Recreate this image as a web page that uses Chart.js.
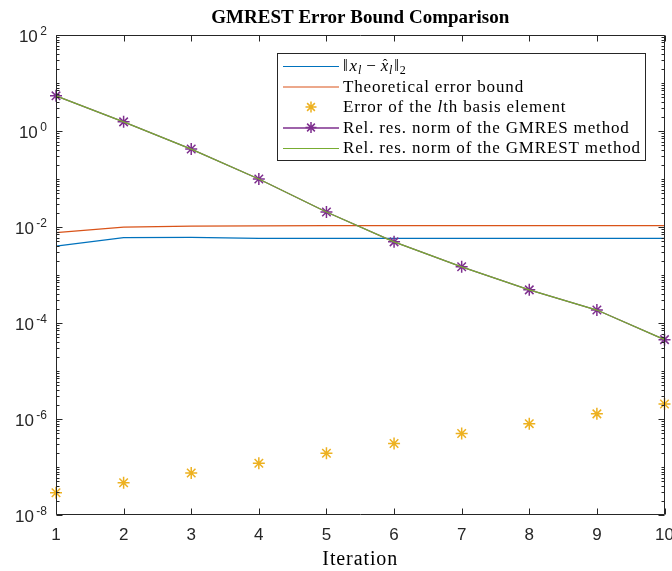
<!DOCTYPE html>
<html><head><meta charset="utf-8">
<script src="https://cdn.jsdelivr.net/npm/chart.js@4.4.0/dist/chart.umd.min.js"></script>
<style>html,body{margin:0;padding:0;background:#fff}#wrap{width:672px;height:571px;position:relative}</style>
</head><body><div id="wrap"><canvas id="c" width="672" height="571"></canvas></div>
<script>
// ---- data ----
const iterations = [1, 2, 3, 4, 5, 6, 7, 8, 9, 10];
const errNorm  = [0.0040, 0.0060, 0.0061, 0.0058, 0.0058, 0.0058, 0.0058, 0.0058, 0.0058, 0.0058];
const errBound = [0.0076, 0.0099, 0.0104, 0.0106, 0.0107, 0.0107, 0.0107, 0.0107, 0.0107, 0.0107];
const basisErr = [2.9e-8, 4.7e-8, 7.5e-8, 1.2e-7, 1.94e-7, 3.1e-7, 5.0e-7, 8.0e-7, 1.28e-6, 2.05e-6];
const gmresRes  = [5.4, 1.55, 0.42, 0.10, 0.0205, 0.0049, 0.00148, 0.00049, 0.000186, 0.000045];
const gmrestRes = [5.4, 1.55, 0.42, 0.10, 0.0205, 0.0049, 0.00148, 0.00049, 0.000186, 0.000045];
const yTickExponents = [-8, -6, -4, -2, 0, 2];
const xTickLabels = ['1','2','3','4','5','6','7','8','9','10'];
const titleText = 'GMREST Error Bound Comparison';
const xLabelText = 'Iteration';
const legendTexts = ['||x_l - x̂_l||_2', 'Theoretical error bound', 'Error of the lth basis element',
  'Rel. res. norm of the GMRES method', 'Rel. res. norm of the GMREST method'];

const COL = {blue:'#0072BD', orange:'#D95319', yellow:'#EDB120', purple:'#7E2F8E', green:'#77AC30'};
const AX = '#262626';
const SERIF = '"Liberation Serif", "DejaVu Serif", serif';
const SANS = '"Liberation Sans", Arial, sans-serif';

const pts = arr => iterations.map((x, i) => ({x: x, y: arr[i]}));

function setLS(ctx, v) { if ('letterSpacing' in ctx) ctx.letterSpacing = v + 'px'; }

function drawLegend(ctx) {
  const L = 277, T = 53, R = 646, B = 161;
  ctx.save();
  ctx.fillStyle = '#fff';
  ctx.fillRect(L, T, R - L, B - T);
  ctx.strokeStyle = AX; ctx.lineWidth = 1;
  ctx.strokeRect(L + 0.5, T + 0.5, R - L - 1, B - T - 1);
  const x0 = 283, x1 = 339, tx = 343;
  const rows = [66, 86.5, 107, 127.5, 148];
  const cols = [COL.blue, COL.orange, null, COL.purple, COL.green];
  rows.forEach((y, i) => {
    if (cols[i]) {
      ctx.strokeStyle = cols[i]; ctx.lineWidth = i === 3 ? 2 : 1.2;
      ctx.globalAlpha = i === 3 ? 0.75 : 1;
      ctx.beginPath(); ctx.moveTo(x0, y + 0.5); ctx.lineTo(x1, y + 0.5); ctx.stroke();
      ctx.globalAlpha = 1;
    }
    if (i === 2) starMarker(ctx, (x0 + x1) / 2, y, 5.5, COL.yellow);
    if (i === 3) starMarker(ctx, (x0 + x1) / 2, y, 5.5, COL.purple);
  });
  ctx.fillStyle = '#000';
  ctx.textBaseline = 'middle'; ctx.textAlign = 'left';
  const fs = 17;
  setLS(ctx, 0.85);
  // row 0: math
  let x = tx, y = rows[0] + 1;
  const seg = (t, font, dy, gap) => { ctx.font = font; ctx.fillText(t, x, y + (dy || 0)); x += ctx.measureText(t).width + (gap || 0); };
  seg('\u2016', fs + 'px ' + SERIF, 0, 1);
  seg('x', 'italic ' + fs + 'px ' + SERIF);
  seg('l', 'italic 12px ' + SERIF, 4, 4);
  seg('\u2212', fs + 'px ' + SERIF, 0, 4);
  const hx = x;
  seg('x', 'italic ' + fs + 'px ' + SERIF);
  ctx.font = '14px ' + SERIF; ctx.fillText('\u02C6', hx + 2, y - 2);
  seg('l', 'italic 12px ' + SERIF, 4, 1);
  seg('\u2016', fs + 'px ' + SERIF);
  seg('2', '12px ' + SERIF, 4);
  ctx.font = fs + 'px ' + SERIF;
  ctx.fillText(legendTexts[1], tx, rows[1] + 1);
  x = tx; y = rows[2] + 1;
  seg('Error of the ', fs + 'px ' + SERIF);
  seg('l', 'italic ' + fs + 'px ' + SERIF);
  seg('th basis element', fs + 'px ' + SERIF);
  ctx.font = fs + 'px ' + SERIF;
  ctx.fillText(legendTexts[3], tx, rows[3] + 1);
  ctx.fillText(legendTexts[4], tx, rows[4] + 1);
  ctx.restore();
}

function starMarker(ctx, cx, cy, r, color) {
  ctx.save();
  ctx.strokeStyle = color; ctx.lineWidth = 1.5;
  ctx.beginPath();
  ctx.moveTo(cx - r, cy); ctx.lineTo(cx + r, cy);
  ctx.moveTo(cx, cy - r); ctx.lineTo(cx, cy + r);
  const d = r * Math.SQRT1_2;
  ctx.moveTo(cx - d, cy - d); ctx.lineTo(cx + d, cy + d);
  ctx.moveTo(cx - d, cy + d); ctx.lineTo(cx + d, cy - d);
  ctx.stroke();
  ctx.restore();
}

const matlabPlugin = {
  id: 'matlab',
  afterDraw(chart) {
    const ctx = chart.ctx;
    const a = chart.chartArea;
    const xs = chart.scales.x, ys = chart.scales.y;
    ctx.save();
    ctx.strokeStyle = AX; ctx.lineWidth = 1;
    const L = Math.round(a.left) + 0.5, R = Math.round(a.right) - 0.5;
    const T = Math.round(a.top) + 0.5, B = Math.round(a.bottom) - 0.5;
    ctx.beginPath();
    ctx.rect(L, T, R - L, B - T);
    ctx.stroke();
    ctx.beginPath();
    iterations.forEach(v => {
      const px = Math.round(xs.getPixelForValue(v)) + 0.5;
      ctx.moveTo(px, B); ctx.lineTo(px, B - 6);
      ctx.moveTo(px, T); ctx.lineTo(px, T + 6);
    });
    for (let e = -8; e <= 2; e++) {
      for (let m = 1; m <= 9; m++) {
        const v = m * Math.pow(10, e);
        if (v > 100) break;
        const py = Math.round(ys.getPixelForValue(v)) + 0.5;
        const major = (m === 1 && yTickExponents.includes(e));
        const len = major ? 6 : 3;
        ctx.moveTo(L, py); ctx.lineTo(L + len, py);
        ctx.moveTo(R, py); ctx.lineTo(R - len, py);
      }
    }
    ctx.stroke();
    ctx.fillStyle = AX;
    ctx.textBaseline = 'middle';
    ctx.textAlign = 'center';
    ctx.font = '17px ' + SANS;
    iterations.forEach((v, i) => {
      ctx.fillText(xTickLabels[i], xs.getPixelForValue(v), a.bottom + 20);
    });
    yTickExponents.forEach(e => {
      const py = ys.getPixelForValue(Math.pow(10, e));
      const ex = String(e);
      ctx.font = '12px ' + SANS;
      const ew = ctx.measureText(ex).width;
      const right = 47;
      ctx.textAlign = 'right';
      ctx.fillText(ex, right, py - 3.5);
      ctx.font = '17px ' + SANS;
      ctx.fillText('10', right - ew - 2.5, py + 2);
    });
    ctx.fillStyle = '#000';
    ctx.textAlign = 'center';
    setLS(ctx, 0.9);
    ctx.font = '20px ' + SERIF;
    ctx.fillText(xLabelText, (a.left + a.right) / 2, a.bottom + 45);
    setLS(ctx, 0);
    ctx.font = 'bold 19px ' + SERIF;
    ctx.fillText(titleText, (a.left + a.right) / 2, 18.5);
    ctx.restore();
    drawLegend(ctx);
  }
};

new Chart(document.getElementById('c'), {
  type: 'line',
  data: {
    datasets: [
      {label: legendTexts[0], data: pts(errNorm), borderColor: COL.blue, borderWidth: 1.2, pointRadius: 0, order: 4, clip: false},
      {label: legendTexts[1], data: pts(errBound), borderColor: COL.orange, borderWidth: 1.2, pointRadius: 0, order: 3, clip: false},
      {label: legendTexts[2], data: pts(basisErr), showLine: false, borderColor: COL.yellow, backgroundColor: COL.yellow,
        pointStyle: 'star', pointRadius: 6, pointBorderWidth: 1.5, order: 2, clip: false},
      {label: legendTexts[3], data: pts(gmresRes), borderColor: COL.purple, backgroundColor: COL.purple, borderWidth: 1.2,
        pointStyle: 'star', pointRadius: 6, pointBorderWidth: 1.5, order: 1, clip: false},
      {label: legendTexts[4], data: pts(gmrestRes), borderColor: COL.green, borderWidth: 1.2, pointRadius: 0, order: 0, clip: false}
    ]
  },
  options: {
    responsive: false,
    animation: false,
    events: [],
    layout: {padding: {left: 56, top: 35, right: 7, bottom: 56}},
    plugins: {legend: {display: false}, title: {display: false}, tooltip: {enabled: false}},
    scales: {
      x: {type: 'linear', min: 1, max: 10, grid: {display: false}, border: {display: false},
          ticks: {display: false, stepSize: 1}, afterFit: s => { s.height = 0; }},
      y: {type: 'logarithmic', min: 1e-8, max: 1e2, grid: {display: false}, border: {display: false},
          ticks: {display: false}, afterFit: s => { s.width = 0; }}
    }
  },
  plugins: [matlabPlugin]
});
</script></body></html>
